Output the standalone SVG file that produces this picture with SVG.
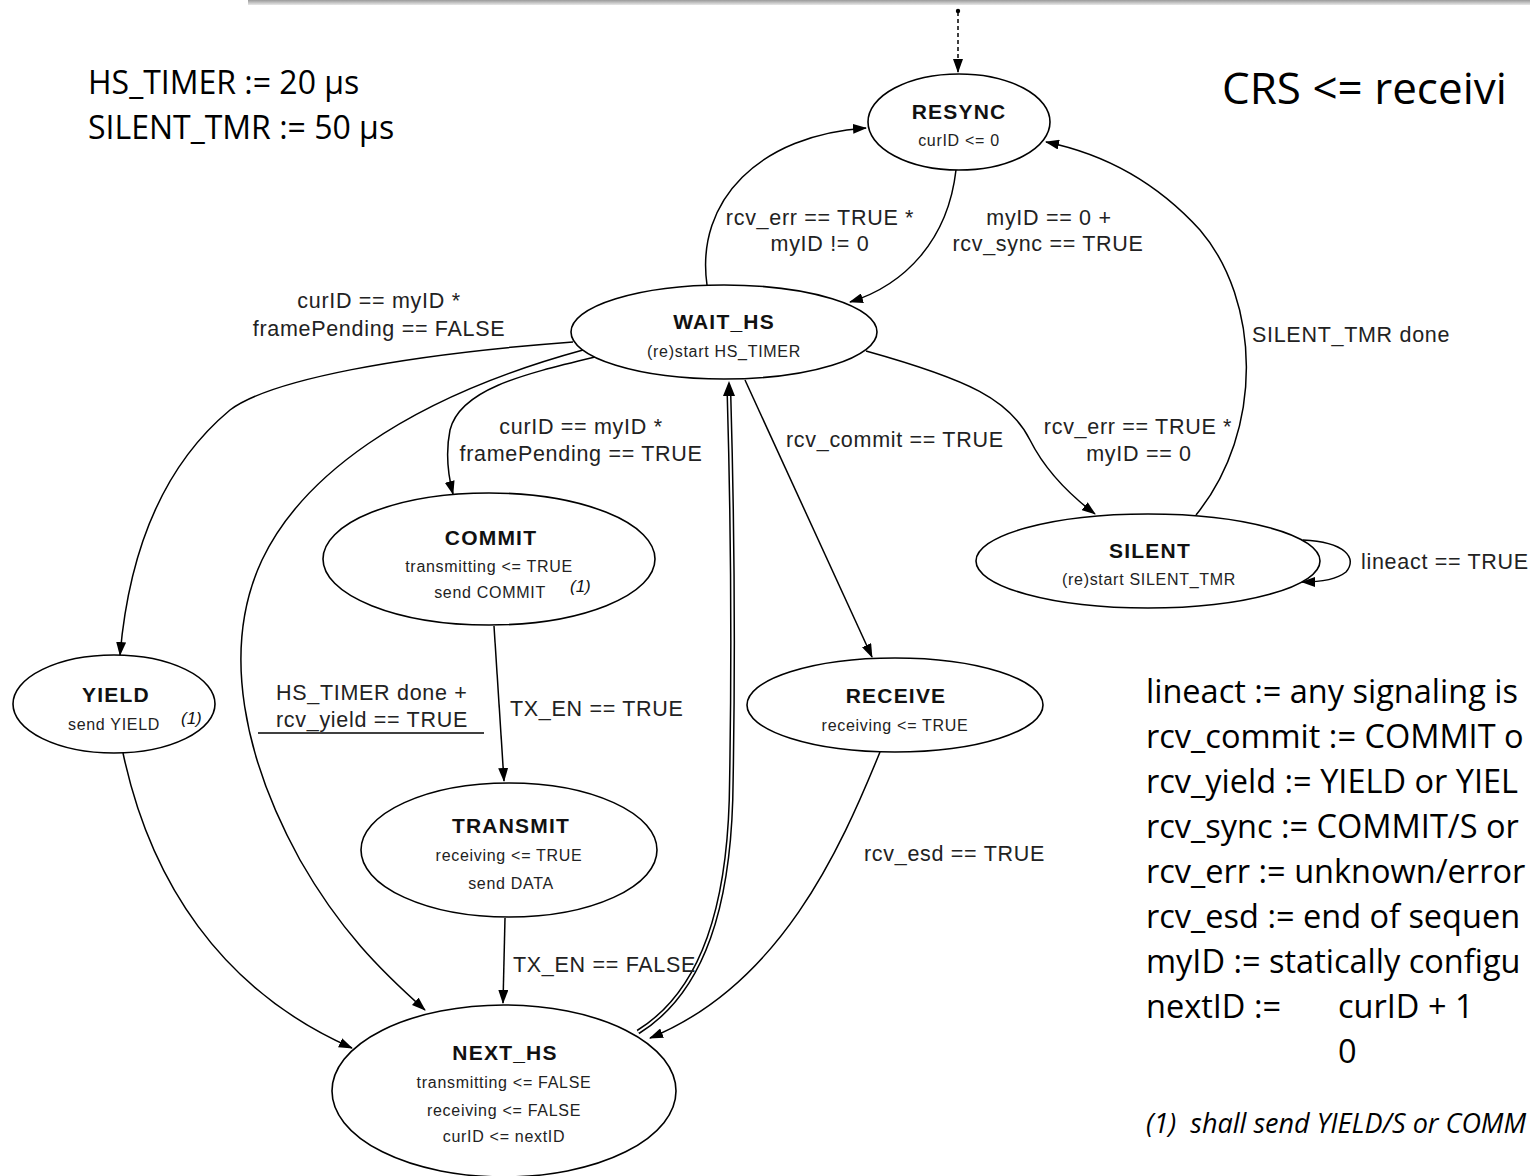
<svg xmlns="http://www.w3.org/2000/svg" width="1530" height="1176" viewBox="0 0 1530 1176">
<defs>
<linearGradient id="bar" x1="0" y1="0" x2="0" y2="1">
<stop offset="0" stop-color="#9a9a9a"/><stop offset="1" stop-color="#e8e8e8"/>
</linearGradient>
<marker id="ah" viewBox="0 0 14 10" refX="13" refY="5" markerWidth="14" markerHeight="10" markerUnits="userSpaceOnUse" orient="auto">
<path d="M0,0 L14,5 L0,10 z" fill="#000"/>
</marker>
</defs>
<style>
.node ellipse{fill:#fff;stroke:#000;stroke-width:1.6}
.nm{font-family:"Liberation Sans",Arial,sans-serif;font-weight:bold;font-size:21px;letter-spacing:1.2px;text-anchor:middle;fill:#111}
.sub{font-family:"Liberation Sans",Arial,sans-serif;font-size:16px;letter-spacing:0.7px;text-anchor:middle;fill:#222}
.fn{font-family:"Liberation Sans",Arial,sans-serif;font-style:italic;font-size:17px;fill:#111}
.lbl{font-family:"Liberation Sans",Arial,sans-serif;font-size:21.5px;letter-spacing:0.7px;fill:#222}
.c{text-anchor:middle}
.edge{fill:none;stroke:#000;stroke-width:1.5}
.big{font-family:"Open Sans","Noto Sans",sans-serif;font-size:32.5px;fill:#000;white-space:pre}
</style>
<rect x="248" y="0" width="1282" height="5" fill="url(#bar)"/>

<text class="big" x="88" y="94" style="font-size:32px">HS_TIMER := 20 µs</text>
<text class="big" x="88" y="139" style="font-size:32px">SILENT_TMR := 50 µs</text>
<text class="big" x="1222" y="104" style="font-size:44px">CRS &lt;= receivi</text>

<g id="legend">
<text class="big" x="1146" y="703">lineact := any signaling is</text>
<text class="big" x="1146" y="748">rcv_commit := COMMIT o</text>
<text class="big" x="1146" y="793">rcv_yield := YIELD or YIEL</text>
<text class="big" x="1146" y="838">rcv_sync := COMMIT/S or</text>
<text class="big" x="1146" y="883">rcv_err := unknown/error</text>
<text class="big" x="1146" y="928">rcv_esd := end of sequen</text>
<text class="big" x="1146" y="973">myID := statically configu</text>
<text class="big" x="1146" y="1018">nextID :=</text>
<text class="big" x="1338" y="1018">curID + 1</text>
<text class="big" x="1338" y="1063">0</text>
<text class="big" x="1146" y="1133" style="font-style:italic;font-size:27px">(1)  shall send YIELD/S or COMM</text>
</g>

<g id="connectors">
<line class="edge" x1="958" y1="12" x2="958" y2="72" stroke-dasharray="4,3" marker-end="url(#ah)"/>
<circle cx="958" cy="11" r="2.2" fill="#000"/>
<path class="edge" d="M707,285 C695,200 760,135 866,128" marker-end="url(#ah)"/>
<path class="edge" d="M956,170 C948,240 905,285 850,302" marker-end="url(#ah)"/>
<path class="edge" d="M1196,515 C1265,430 1260,300 1200,230 C1150,175 1095,152 1046,142" marker-end="url(#ah)"/>
<path class="edge" d="M866,351 C970,380 1010,400 1030,440 C1045,470 1070,495 1095,514" marker-end="url(#ah)"/>
<path class="edge" d="M1303,540 C1345,542 1358,558 1346,572 C1336,580 1320,582 1302,582" marker-end="url(#ah)"/>
<path class="edge" d="M573,342 C400,355 270,380 230,410 C170,460 130,540 120,655" marker-end="url(#ah)"/>
<path class="edge" d="M595,357 C520,375 460,390 450,430 C445,455 448,475 453,494" marker-end="url(#ah)"/>
<path class="edge" d="M583,350 C400,400 300,480 262,560 C220,650 245,760 300,860 C340,930 380,970 425,1010" marker-end="url(#ah)"/>
<line class="edge" x1="745" y1="380" x2="872" y2="657" marker-end="url(#ah)"/>
<line class="edge" x1="494" y1="626" x2="504" y2="781" marker-end="url(#ah)"/>
<line class="edge" x1="505" y1="918" x2="503" y2="1003" marker-end="url(#ah)"/>
<path class="edge" d="M123,753 C150,880 220,990 352,1048" marker-end="url(#ah)"/>
<path class="edge" d="M880,752 C840,850 780,985 650,1038" marker-end="url(#ah)"/>
<path d="M638,1032 C706,990 728,900 731,800 C734,650 732,500 729,395" fill="none" stroke="#000" stroke-width="5"/>
<path d="M638,1032 C706,990 728,900 731,800 C734,650 732,500 729,395" fill="none" stroke="#fff" stroke-width="2"/>
<path d="M723,396 L729,381 L735,396 z" fill="#000"/>
<path d="M258,733 L484,733" fill="none" stroke="#000" stroke-width="1.3"/>
</g>

<g id="edge-labels">
<text class="lbl c" x="820" y="225">rcv_err == TRUE *</text>
<text class="lbl c" x="820" y="251">myID != 0</text>
<text class="lbl c" x="1049" y="225">myID == 0 +</text>
<text class="lbl c" x="1048" y="251">rcv_sync == TRUE</text>
<text class="lbl c" x="379" y="308">curID == myID *</text>
<text class="lbl c" x="379" y="336">framePending == FALSE</text>
<text class="lbl" x="1252" y="342">SILENT_TMR done</text>
<text class="lbl c" x="581" y="434">curID == myID *</text>
<text class="lbl c" x="581" y="461">framePending == TRUE</text>
<text class="lbl" x="786" y="447">rcv_commit == TRUE</text>
<text class="lbl c" x="1138" y="434">rcv_err == TRUE *</text>
<text class="lbl c" x="1139" y="461">myID == 0</text>
<text class="lbl" x="1361" y="569">lineact == TRUE</text>
<text class="lbl" x="276" y="700">HS_TIMER done +</text>
<text class="lbl" x="276" y="727">rcv_yield == TRUE</text>
<text class="lbl" x="510" y="716">TX_EN == TRUE</text>
<text class="lbl" x="864" y="861">rcv_esd == TRUE</text>
<text class="lbl" x="513" y="972">TX_EN == FALSE</text>
</g>

<g id="RESYNC" class="node">
<ellipse cx="959" cy="122" rx="91" ry="48"/>
<text class="nm" x="959" y="119">RESYNC</text>
<text class="sub" x="959" y="146">curID &lt;= 0</text>
</g>
<g id="WAIT_HS" class="node">
<ellipse cx="724" cy="332" rx="153" ry="47"/>
<text class="nm" x="724" y="329">WAIT_HS</text>
<text class="sub" x="724" y="357">(re)start HS_TIMER</text>
</g>
<g id="SILENT" class="node">
<ellipse cx="1148" cy="561" rx="172" ry="47"/>
<text class="nm" x="1150" y="558">SILENT</text>
<text class="sub" x="1149" y="585">(re)start SILENT_TMR</text>
</g>
<g id="COMMIT" class="node">
<ellipse cx="489" cy="559" rx="166" ry="66"/>
<text class="nm" x="491" y="545">COMMIT</text>
<text class="sub" x="489" y="572">transmitting &lt;= TRUE</text>
<text class="sub" x="490" y="598">send COMMIT</text>
<text class="fn" x="570" y="592">(1)</text>
</g>
<g id="YIELD" class="node">
<ellipse cx="114" cy="704" rx="101" ry="49"/>
<text class="nm" x="116" y="702">YIELD</text>
<text class="sub" x="114" y="730">send YIELD</text>
<text class="fn" x="181" y="724">(1)</text>
</g>
<g id="RECEIVE" class="node">
<ellipse cx="895" cy="705" rx="148" ry="47"/>
<text class="nm" x="896" y="703">RECEIVE</text>
<text class="sub" x="895" y="731">receiving &lt;= TRUE</text>
</g>
<g id="TRANSMIT" class="node">
<ellipse cx="509" cy="850" rx="148" ry="67"/>
<text class="nm" x="511" y="833">TRANSMIT</text>
<text class="sub" x="509" y="861">receiving &lt;= TRUE</text>
<text class="sub" x="511" y="889">send DATA</text>
</g>
<g id="NEXT_HS" class="node">
<ellipse cx="504" cy="1091" rx="172" ry="86"/>
<text class="nm" x="505" y="1060">NEXT_HS</text>
<text class="sub" x="504" y="1088">transmitting &lt;= FALSE</text>
<text class="sub" x="504" y="1116">receiving &lt;= FALSE</text>
<text class="sub" x="504" y="1142">curID &lt;= nextID</text>
</g>
</svg>
